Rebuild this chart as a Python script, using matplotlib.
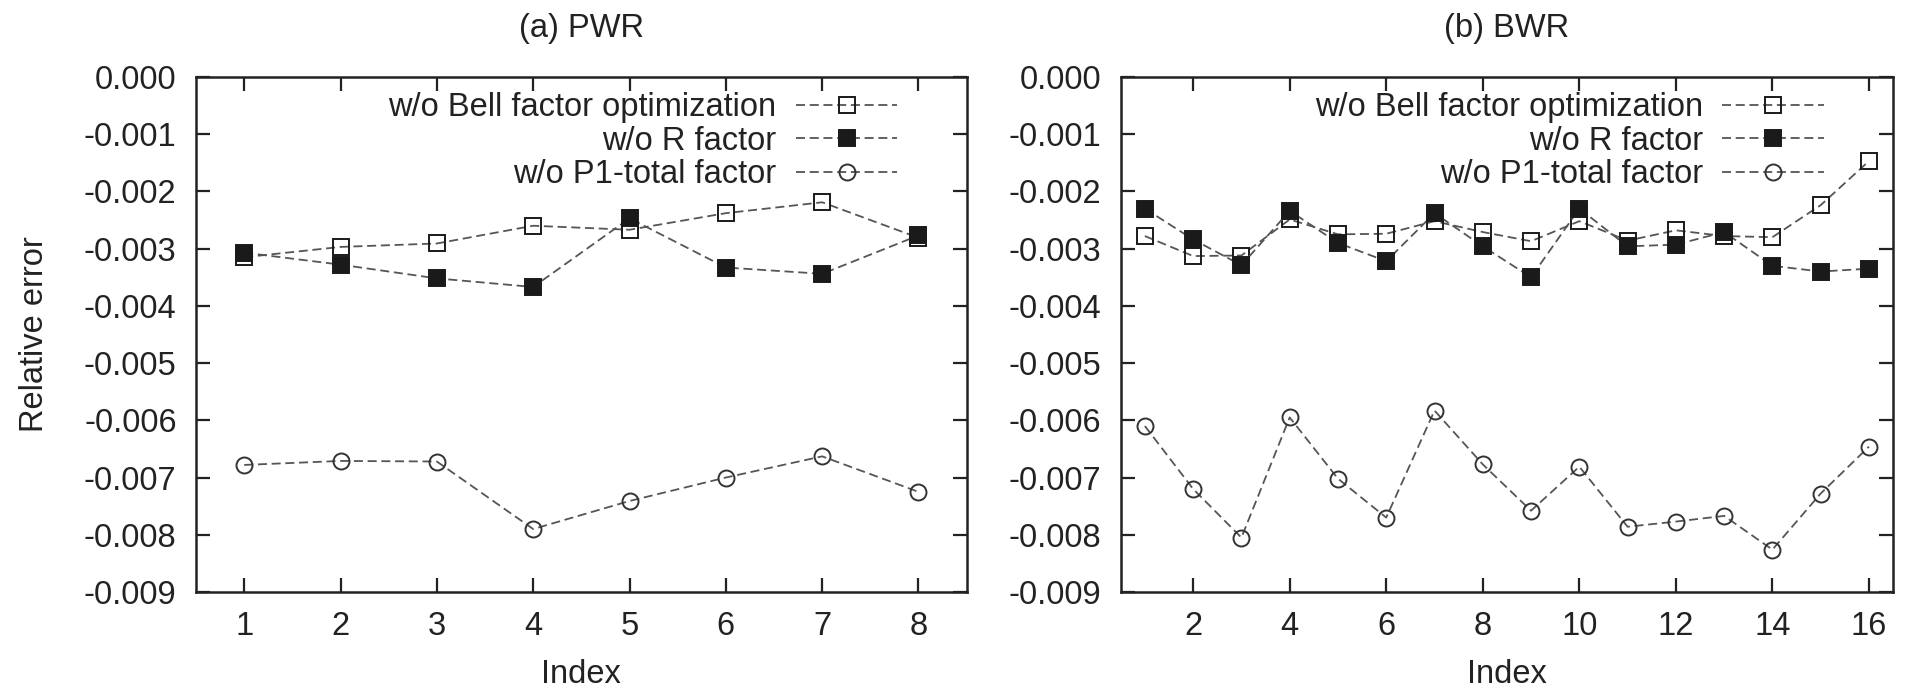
import matplotlib
matplotlib.use('Agg')
import matplotlib.pyplot as plt
from matplotlib.ticker import FormatStrFormatter

plt.rcParams['font.family'] = ['Liberation Sans', 'DejaVu Sans']
plt.rcParams['axes.unicode_minus'] = False

# 数据
pwr_idx = [1, 2, 3, 4, 5, 6, 7, 8]
pwr_bell = [-0.00315, -0.00297, -0.00291, -0.00260, -0.00267, -0.00238, -0.00219, -0.00281]
pwr_r = [-0.00307, -0.00328, -0.00352, -0.00367, -0.00247, -0.00333, -0.00344, -0.00277]
pwr_p1 = [-0.00678, -0.00671, -0.00672, -0.00790, -0.00741, -0.00700, -0.00663, -0.00725]

bwr_idx = list(range(1, 17))
bwr_bell = [-0.00278, -0.00313, -0.00312, -0.00249, -0.00275, -0.00274, -0.00252, -0.00271,
            -0.00287, -0.00252, -0.00286, -0.00268, -0.00278, -0.00280, -0.00224, -0.00147]
bwr_r = [-0.00230, -0.00284, -0.00329, -0.00234, -0.00290, -0.00322, -0.00238, -0.00296,
         -0.00350, -0.00230, -0.00296, -0.00293, -0.00271, -0.00330, -0.00340, -0.00335]
bwr_p1 = [-0.00610, -0.00720, -0.00805, -0.00595, -0.00702, -0.00770, -0.00583, -0.00677,
          -0.00758, -0.00681, -0.00786, -0.00777, -0.00767, -0.00826, -0.00728, -0.00646]

labels = ['w/o Bell factor optimization', 'w/o R factor', 'w/o P1-total factor']
titles = ['(a) PWR', '(b) BWR']

fs = 23.5
txt = '#222222'
line_col = '#555555'
dash = (0, (5, 2.6))

fig = plt.figure(figsize=(19.07, 6.94), dpi=100)
ax1 = fig.add_axes([0.1028, 0.1470, 0.4041, 0.7421])
ax2 = fig.add_axes([0.5877, 0.1470, 0.4050, 0.7421])

panels = [
    (ax1, pwr_idx, pwr_bell, pwr_r, pwr_p1, titles[0], (0.5, 8.5), range(1, 9)),
    (ax2, bwr_idx, bwr_bell, bwr_r, bwr_p1, titles[1], (0.5, 16.5), range(2, 17, 2)),
]

for ax, x, bell, r, p1, title, xlim, xt in panels:
    ax.plot(x, bell, linestyle=dash, color=line_col, lw=1.3, marker='s', ms=11,
            mfc='none', mec='#1a1a1a', mew=1.4, label=labels[0])
    ax.plot(x, r, linestyle=dash, color=line_col, lw=1.3, marker='s', ms=11,
            mfc='#1a1a1a', mec='#1a1a1a', mew=1.4, label=labels[1])
    ax.plot(x, p1, linestyle=dash, color=line_col, lw=1.3, marker='o', ms=11.5,
            mfc='none', mec='#333333', mew=1.4, label=labels[2])

    ax.set_xlim(*xlim)
    ax.set_ylim(-0.009, 0.0)
    ax.set_xticks(list(xt))
    ax.set_yticks([-0.009 + 0.001 * i for i in range(10)])
    ax.yaxis.set_major_formatter(FormatStrFormatter('%.3f'))
    ax.tick_params(direction='in', length=10, width=1.6, top=True, right=True,
                   labelsize=fs, colors='#222222', labelcolor=txt)
    ax.tick_params(axis='x', pad=14)
    ax.tick_params(axis='y', pad=14)
    for s in ax.spines.values():
        s.set_linewidth(1.8)
        s.set_color('#222222')

    ax.set_title(title, fontsize=fs, color=txt, pad=29)
    ax.set_xlabel('Index', fontsize=fs, color=txt)
    ax.xaxis.set_label_coords(0.5, -0.13)

    ax.legend(loc='upper right', bbox_to_anchor=(0.91, 0.970), frameon=False,
              markerfirst=False, fontsize=fs, handlelength=3.1, handletextpad=0.6,
              labelspacing=0.07, borderpad=0, borderaxespad=0, labelcolor=txt)

ax1.set_ylabel('Relative error', fontsize=fs, color=txt)
ax1.yaxis.set_label_coords(-0.19, 0.5)

plt.savefig('out.png', dpi=100)
